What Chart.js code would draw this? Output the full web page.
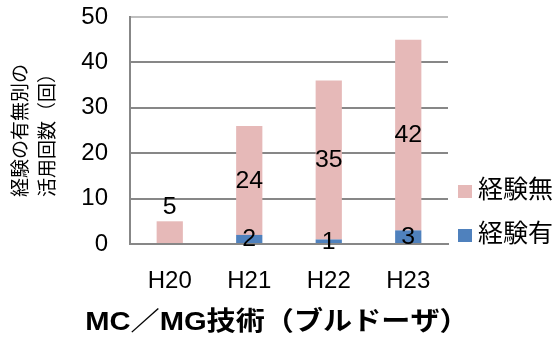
<!DOCTYPE html>
<html>
<head>
<meta charset="utf-8">
<script src="https://cdn.jsdelivr.net/npm/chart.js@4.4.1/dist/chart.umd.min.js"></script>
<style>
  html, body { margin: 0; padding: 0; background: #ffffff; }
  #wrap { width: 556px; height: 338px; }
</style>
</head>
<body>
<div id="wrap"><canvas id="chart" width="556" height="338"></canvas></div>
<script>
// Usage counts of MC/MG (bulldozer) by fiscal year, split by prior experience
const categories = ['H20', 'H21', 'H22', 'H23'];
const withExperience = [0, 2, 1, 3];        // 経験有
const withoutExperience = [5, 24, 35, 42];  // 経験無
const yTicks = [0, 10, 20, 30, 40, 50];
const seriesNames = ['経験有', '経験無'];
const yTitleLines = ['経験の有無別の', '活用回数（回）'];
const xTitleText = 'MC／MG技術（ブルドーザ）';
const labelAboveStack = ['H20'];            // categories whose value sits above the bar

const PINK = '#E6B9B8';
const BLUE = '#4F81BD';
const GRID = '#878787';
const FRAME = '#BFBFBF';
const LATIN = "'Liberation Sans', Arial, 'Noto Sans CJK JP', sans-serif";
const CJK = "'Noto Sans CJK JP', 'Liberation Sans', sans-serif";

// draw text slightly widened, the way the rest of the lettering is set
function wideText(ctx, text, x, y, sx) {
  ctx.save();
  ctx.translate(x, y);
  ctx.scale(sx, 1);
  ctx.fillText(text, 0, 0);
  ctx.restore();
}

// value labels inside each stacked segment
const valueLabels = {
  id: 'valueLabels',
  afterDatasetsDraw(chart) {
    const ctx = chart.ctx;
    ctx.save();
    ctx.font = '23px ' + LATIN;
    ctx.fillStyle = '#000000';
    ctx.textAlign = 'center';
    ctx.textBaseline = 'middle';
    chart.data.datasets.forEach((ds, di) => {
      const meta = chart.getDatasetMeta(di);
      meta.data.forEach((bar, i) => {
        const v = ds.data[i];
        if (!v) return;
        const p = bar.getProps(['x', 'y', 'base'], true);
        let y = (p.y + p.base) / 2;
        if (labelAboveStack.includes(categories[i])) y = p.y - 15;
        wideText(ctx, String(v), p.x, y + 1, 1.08);
      });
    });
    ctx.restore();
  }
};

// legend on the right and the category axis caption
const sideLegend = {
  id: 'sideLegend',
  afterDraw(chart) {
    const ctx = chart.ctx;
    const a = chart.chartArea;
    const items = [
      { text: seriesNames[1], color: PINK, y: a.bottom - 53 },
      { text: seriesNames[0], color: BLUE, y: a.bottom - 9 }
    ];
    ctx.save();
    ctx.font = '25px ' + CJK;
    ctx.textBaseline = 'middle';
    ctx.textAlign = 'left';
    items.forEach(it => {
      ctx.fillStyle = it.color;
      ctx.fillRect(a.right + 10, it.y - 6, 14, 13);
      ctx.fillStyle = '#000000';
      ctx.fillText(it.text, a.right + 30, it.y - 3);
    });
    ctx.font = 'bold 26px ' + LATIN;
    ctx.textAlign = 'center';
    wideText(ctx, xTitleText, a.left + 147, a.bottom + 79, 1.12);
    ctx.restore();
  }
};

new Chart(document.getElementById('chart'), {
  type: 'bar',
  data: {
    labels: categories,
    datasets: [
      { label: seriesNames[0], data: withExperience, backgroundColor: BLUE, stack: 's' },
      { label: seriesNames[1], data: withoutExperience, backgroundColor: PINK, stack: 's' }
    ]
  },
  options: {
    responsive: false,
    animation: false,
    devicePixelRatio: 1,
    layout: { autoPadding: false, padding: { top: 17, right: 108, bottom: 0, left: 0 } },
    datasets: { bar: { categoryPercentage: 1, barPercentage: 0.33, borderWidth: 0 } },
    plugins: {
      legend: { display: false },
      tooltip: { enabled: false },
      title: { display: false }
    },
    scales: {
      x: {
        stacked: true,
        afterFit(s) { s.height = 94; s.paddingLeft = 0; s.paddingRight = 0; },
        grid: {
          drawTicks: false,
          lineWidth: 2,
          color: c => (c.index === categories.length ? FRAME : 'rgba(0,0,0,0)')
        },
        border: { color: GRID, width: 2 },
        ticks: { color: '#000000', padding: 23, font: { family: LATIN, size: 24 } }
      },
      y: {
        stacked: true,
        min: yTicks[0],
        max: yTicks[yTicks.length - 1],
        afterFit(s) { s.width = 130; s.paddingTop = 0; s.paddingBottom = 0; },
        afterBuildTicks(s) { s.ticks = yTicks.map(v => ({ value: v })); },
        grid: {
          drawTicks: false,
          lineWidth: 2,
          color: c => (c.tick && c.tick.value === yTicks[yTicks.length - 1] ? FRAME : GRID)
        },
        border: { color: GRID, width: 2 },
        ticks: { color: '#000000', padding: 22, font: { family: LATIN, size: 24 } },
        title: {
          display: true,
          text: yTitleLines,
          color: '#000000',
          padding: { top: 6, bottom: 0 },
          font: { family: CJK, size: 19, lineHeight: '27px' }
        }
      }
    }
  },
  plugins: [valueLabels, sideLegend]
});
</script>
</body>
</html>
